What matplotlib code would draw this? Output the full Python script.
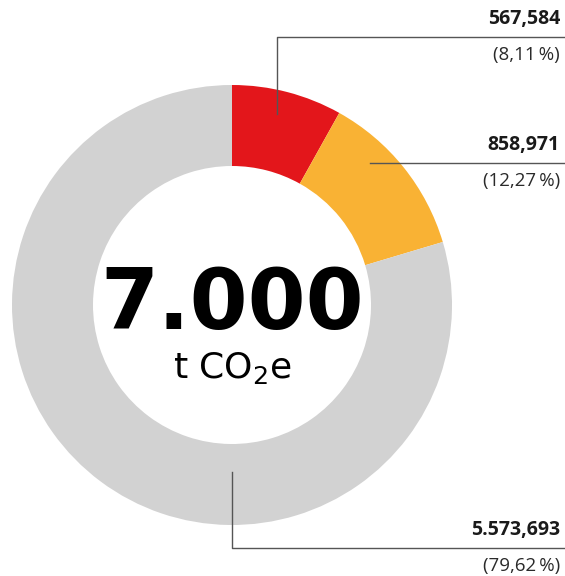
import numpy as np
import matplotlib
matplotlib.use('Agg')
import matplotlib.pyplot as plt

# data
values = [567584, 858971, 5573693]
valueLabels = ['567,584', '858,971', '5.573,693']
shareLabels = ['(8,11\u2009%)', '(12,27\u2009%)', '(79,62\u2009%)']
colors = ['#e3161b', '#f9b234', '#d2d2d2']
totalLabel = '7.000'
unitLabel = 't CO$_2$e'

# leader anchor (angle in deg, radius fraction), elbow y (pixels from top)
anchorAngles = [76.7, 45.8, -90.0]
anchorRadii = [0.89, 0.90, 0.76]
lineY = [37, 163, 548]

W, H = 565, 576
fig = plt.figure(figsize=(W / 100, H / 100), dpi=100)
ax = fig.add_axes([0, 0, 1, 1])

cx, cy, R = 232, H - 305, 220
ax.pie(values, colors=colors, startangle=90, counterclock=False,
       radius=R, center=(cx, cy), frame=True,
       wedgeprops=dict(width=R - 139, linewidth=0))
ax.set_xlim(0, W)
ax.set_ylim(0, H)
ax.set_aspect('equal')
ax.axis('off')

for i in range(len(values)):
    a = np.deg2rad(anchorAngles[i])
    px = cx + anchorRadii[i] * R * np.cos(a)
    py = cy + anchorRadii[i] * R * np.sin(a)
    ly = H - lineY[i]
    if i == 1:
        xs, ys = [px, W], [ly, ly]
    else:
        xs, ys = [px, px, W], [py, ly, ly]
    ax.plot(xs, ys, color='#555555', lw=1)
    ax.text(560, ly + 8, valueLabels[i], ha='right', va='bottom',
            fontsize=14, fontweight='bold', family='Open Sans', color='#1a1a1a')
    ax.text(560, ly - 9, shareLabels[i], ha='right', va='top',
            fontsize=13.5, family=['Open Sans', 'DejaVu Sans'], color='#2a2a2a')

ax.text(cx, H - 306, totalLabel, ha='center', va='center',
        fontsize=60, fontweight='bold', family='DejaVu Sans', color='black')
ax.text(cx, H - 368, unitLabel, ha='center', va='center',
        fontsize=26, family='DejaVu Sans', color='black')

fig.savefig('out.png', dpi=100)
